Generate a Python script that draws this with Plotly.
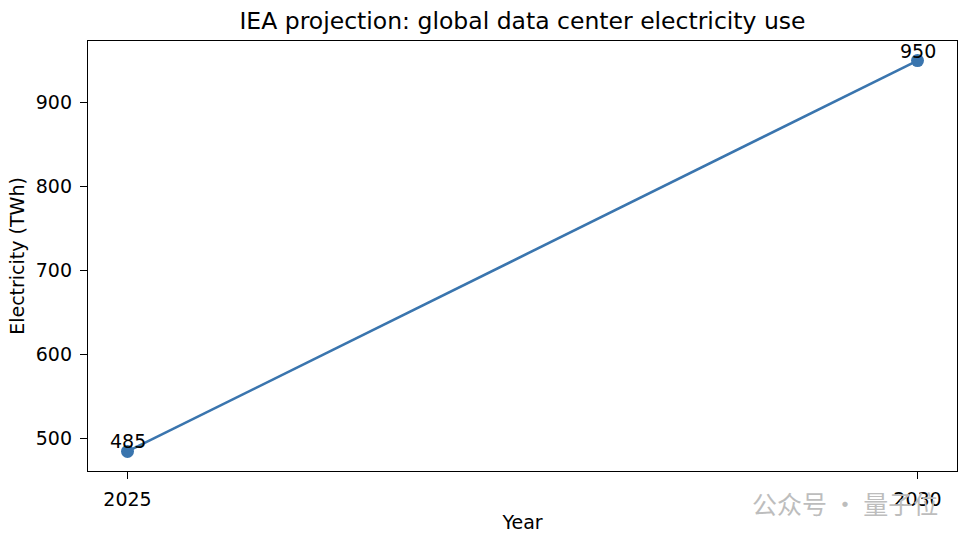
import plotly.graph_objects as go

# data
years = [2025, 2030]
twh = [485, 950]
point_labels = ["485", "950"]
y_ticks = [500, 600, 700, 800, 900]

line_color = "#3a75ae"
tick_size = 19

fig = go.Figure(go.Scatter(
    x=years,
    y=twh,
    mode="lines+markers",
    line=dict(color=line_color, width=2.6),
    marker=dict(color=line_color, size=13),
    cliponaxis=False,
    hoverinfo="x+y",
))

# value labels sitting right on top of the points
for yr, val, lab in zip(years, twh, point_labels):
    fig.add_annotation(x=yr, y=val, text=lab, showarrow=False,
                       xanchor="center", yanchor="bottom", yshift=-3,
                       font=dict(size=tick_size, color="black"))

axis_style = dict(
    showline=True, linecolor="black", linewidth=1.3, mirror=True,
    ticks="outside", ticklen=7, tickwidth=1.3, tickcolor="black",
    ticklabelstandoff=4,
    showgrid=False, zeroline=False,
    tickfont=dict(size=tick_size, color="black"),
)

fig.update_xaxes(
    range=[2024.75, 2030.25], tickvals=years, ticktext=[str(y) for y in years],
    title=dict(text="Year", font=dict(size=tick_size, color="black"), standoff=6),
    **axis_style,
)
fig.update_yaxes(
    range=[461.75, 973.25], tickvals=y_ticks,
    title=dict(text="Electricity (TWh)", font=dict(size=tick_size, color="black"), standoff=6),
    **axis_style,
)

# watermark text in the lower right
fig.add_annotation(
    text="公众号 · 量子位", xref="paper", yref="paper", x=0.762, y=-0.075,
    xanchor="left", yanchor="middle", showarrow=False,
    font=dict(family="Noto Sans CJK SC", size=25, color="#bdbdbd"),
)

fig.update_layout(
    width=968, height=542,
    margin=dict(l=88, r=11, t=41, b=71),
    paper_bgcolor="white", plot_bgcolor="white",
    font=dict(family="DejaVu Sans", color="black"),
    title=dict(text="IEA projection: global data center electricity use",
               x=0.5, xref="paper", xanchor="center",
               y=0.961, yref="container", yanchor="middle",
               font=dict(size=23.5, color="black")),
    showlegend=False,
)

fig.write_html("out.html", config={"displayModeBar": False},
               post_script="document.body.style.margin='0';")
